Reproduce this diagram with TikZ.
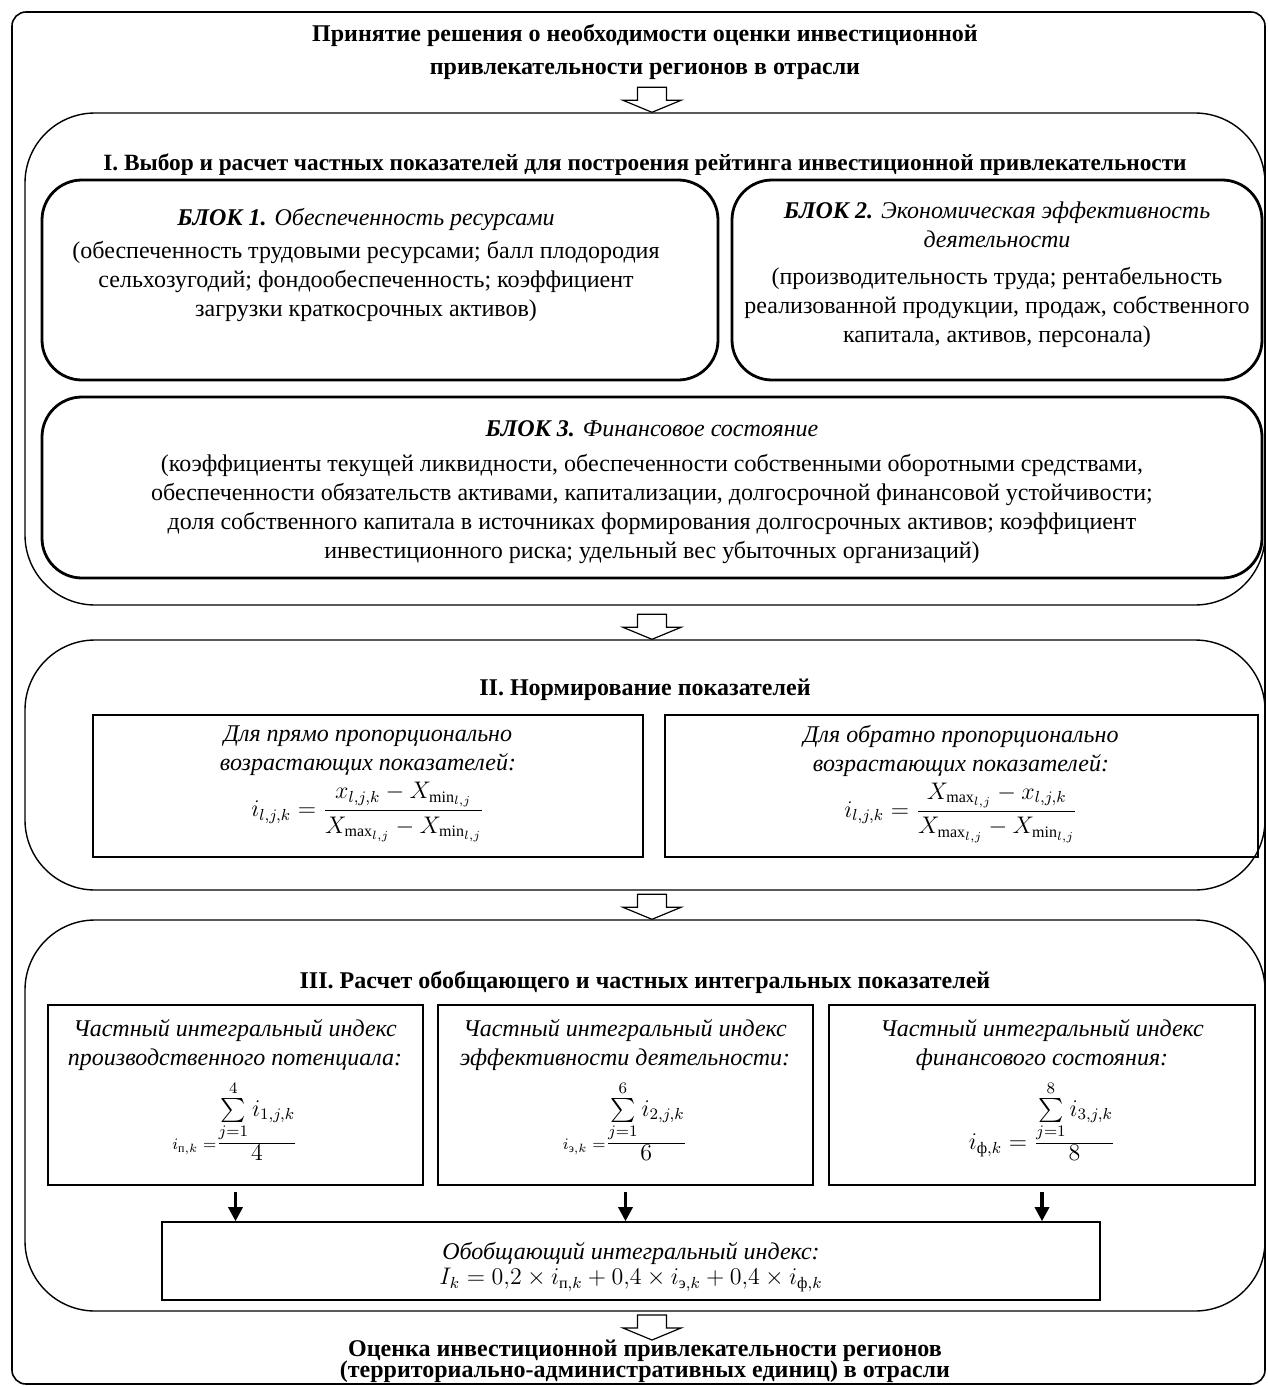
\documentclass[tikz,border=0pt]{standalone}
\usepackage{amsmath}
\usepackage{fontspec}
\setmainfont{Liberation Serif}
\usetikzlibrary{positioning,fit,calc,arrows.meta}

% hollow block arrow, tip at #1
\newcommand{\hollowdown}[1]{%
  \draw[hollow, shift={(#1)}, xshift=3.5pt] (-7.25pt,12.5pt) -- (-7.25pt,6pt) -- (-14.5pt,6pt)
    -- (0pt,0pt) -- (14.5pt,6pt) -- (7.25pt,6pt) -- (7.25pt,12.5pt) -- cycle;}
% exact line spacing
\newcommand{\exactlines}{\lineskiplimit -20pt\relax\lineskip 0pt\relax}

\tikzset{
  outerframe/.style={draw, line width=0.8pt, rounded corners=7pt, inner sep=0pt},
  secframe/.style={draw, line width=0.7pt, rounded corners=35pt, inner sep=0pt},
  blockbox/.style={draw, line width=1.4pt, rounded corners=20pt, inner sep=0pt},
  formbox/.style={draw, line width=0.8pt, inner sep=0pt},
  txt/.style={align=center, inner sep=0pt, font=\fontsize{12}{14.5}\selectfont},
  head/.style={align=center, inner sep=0pt, font=\fontsize{12}{16.5}\selectfont\bfseries},
  hollow/.style={draw, line width=0.6pt, fill=white, line join=miter},
  down/.style={-{Triangle[length=7pt,width=7pt]}, line width=1.6pt},
}

\begin{document}
\begin{tikzpicture}[x=0.5pt,y=-0.5pt]
	\useasboundingbox (0,0) rectangle (1268,1386);

	%frames
	\node[outerframe, fit={(12,12) (1265,1384)}] (all) {};
	\node[secframe, fit={(25,113) (1265,605)}] (s1) {};
	\node[secframe, fit={(25,640) (1265,890)}] (s2) {};
	\node[secframe, fit={(25,920) (1265,1311)}] (s3) {};

	%blocks of section I
	\node[blockbox, fit={(42,180) (718,380)}] (b1) {};
	\node[blockbox, fit={(732,180) (1262,380)}] (b2) {};
	\node[blockbox, fit={(42,397) (1262,578)}] (b3) {};

	%formula boxes
	\node[formbox, fit={(93,715) (643,857)}] (n1) {};
	\node[formbox, fit={(665,715) (1258,857)}] (n2) {};
	\node[formbox, fit={(48,1005) (423,1185)}] (p1) {};
	\node[formbox, fit={(438,1005) (813,1185)}] (p2) {};
	\node[formbox, fit={(829,1005) (1255,1185)}] (p3) {};
	\node[formbox, fit={(162,1222) (1100,1300)}] (sum) {};

	%headings
	\node[head] (start) at (645,52) {Принятие решения о необходимости оценки инвестиционной\\привлекательности регионов в отрасли};
	\node[head, font=\fontsize{11.65}{14}\selectfont\bfseries] (s1t) at (645,165) {I. Выбор и расчет частных показателей для построения рейтинга инвестиционной привлекательности};
	\node[head] (s2t) at (645,690) {II. Нормирование показателей};
	\node[head] (s3t) at (645,982) {III. Расчет обобщающего и частных интегральных показателей};
	\node[head, font=\fontsize{12}{10.5}\selectfont\bfseries\exactlines, anchor=north] (finish) at (645,1340) {Оценка инвестиционной привлекательности регионов\\(территориально-административных единиц) в отрасли};

	%block texts
	\node[txt] (b1t) at (366,265) {\textbf{\textit{БЛОК 1.}} \textit{Обеспеченность ресурсами}\\[2pt]
		(обеспеченность трудовыми ресурсами; балл плодородия\\
		сельхозугодий; фондообеспеченность; коэффициент\\
		загрузки краткосрочных активов)};
	\node[txt] (b2t) at (997,275) {\textbf{\textit{БЛОК 2.}} \textit{Экономическая эффективность}\\
		\textit{деятельности}\\[4pt]
		(производительность труда; рентабельность\\
		реализованной продукции, продаж, собственного\\
		капитала, активов, персонала)};
	\node[txt] (b3t) at (652,492) {\textbf{\textit{БЛОК 3.}} \textit{Финансовое состояние}\\[3pt]
		(коэффициенты текущей ликвидности, обеспеченности собственными оборотными средствами,\\
		обеспеченности обязательств активами, капитализации, долгосрочной финансовой устойчивости;\\
		доля собственного капитала в источниках формирования долгосрочных активов; коэффициент\\
		инвестиционного риска; удельный вес убыточных организаций)};

	%normalisation
	\node[txt] (n1t) at (368,784) {\textit{Для прямо пропорционально}\\\textit{возрастающих показателей:}\\[2pt]
		$\displaystyle i_{l,j,k}=\frac{x_{l,j,k}-X_{\min_{l,j}}}{X_{\max_{l,j}}-X_{\min_{l,j}}}$};
	\node[txt] (n2t) at (961,784) {\textit{Для обратно пропорционально}\\\textit{возрастающих показателей:}\\[2pt]
		$\displaystyle i_{l,j,k}=\frac{X_{\max_{l,j}}-x_{l,j,k}}{X_{\max_{l,j}}-X_{\min_{l,j}}}$};

	%partial indices
	\node[txt, anchor=north] (p1t) at (235,1019) {\textit{Частный интегральный индекс}\\\textit{производственного потенциала:}\\[4pt]
		\mbox{\footnotesize$i_{\text{п},k}=$}$\frac{\textstyle\sum\limits_{j=1}^{4} i_{1,j,k}}{\textstyle 4}$};
	\node[txt, anchor=north] (p2t) at (625,1019) {\textit{Частный интегральный индекс}\\\textit{эффективности деятельности:}\\[4pt]
		\mbox{\footnotesize$i_{\text{э},k}=$}$\frac{\textstyle\sum\limits_{j=1}^{6} i_{2,j,k}}{\textstyle 6}$};
	\node[txt, anchor=north] (p3t) at (1042,1019) {\textit{Частный интегральный индекс}\\\textit{финансового состояния:}\\[4pt]
		$i_{\text{ф},k}=\frac{\textstyle\sum\limits_{j=1}^{8} i_{3,j,k}}{\textstyle 8}$};
	\node[txt, font=\fontsize{12}{12.5}\selectfont] (sumt) at (631,1267) {\textit{Обобщающий интегральный индекс:}\\
		$I_k=0{,}2\times i_{\text{п},k}+0{,}4\times i_{\text{э},k}+0{,}4\times i_{\text{ф},k}$};

	%arrows
	\hollowdown{s1.north}
	\hollowdown{s2.north}
	\hollowdown{s3.north}
	\hollowdown{finish.north}
	\draw[down, shorten <=3pt] (p1.south) -- (p1.south |- sum.north);
	\draw[down, shorten <=3pt] (p2.south) -- (p2.south |- sum.north);
	\draw[down, shorten <=3pt] (p3.south) -- (p3.south |- sum.north);
\end{tikzpicture}
\end{document}
